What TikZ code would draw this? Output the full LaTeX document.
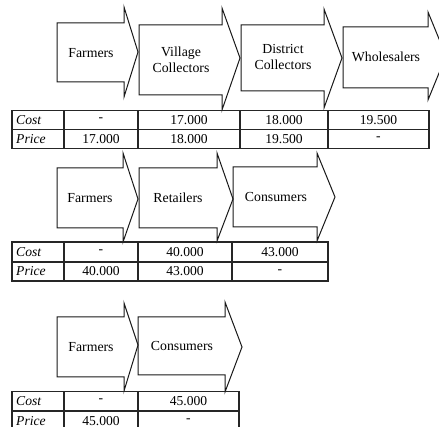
\documentclass[tikz,border=0pt]{standalone}
\usepackage{fontspec}
\setmainfont{Liberation Serif}
\tikzset{
  chain/.style={draw=black!90, line width=1pt, line join=miter},
  grid/.style={draw=black!85, line width=1.1pt},
  lbl/.style={font=\fontsize{13.8}{16.5}\selectfont, align=center, inner sep=0pt},
  cell/.style={font=\fontsize{13.6}{15}\selectfont, inner sep=0pt},
  head/.style={cell, font=\fontsize{13.6}{15}\selectfont\itshape, anchor=west},
}
\begin{document}
\begin{tikzpicture}[x=1pt,y=-1pt]
\useasboundingbox (0,0) rectangle (439,427);
\clip (0,0) rectangle (439,427);

% ---- chain 1: farmers -> village collectors -> district collectors -> wholesalers
\draw[chain] (57,23) -- (124,23) -- (124,7) -- (138,52) -- (124,97) -- (124,82) -- (57,82) -- cycle;
\node[lbl] (a1) at (91,53) {Farmers};
\draw[chain] (139,25) -- (222,25) -- (222,8) -- (240,58) -- (222,110) -- (222,95) -- (139,95) -- cycle;
\node[lbl] (a2) at (181,60) {Village\\Collectors};
\draw[chain] (241,25) -- (324,25) -- (324,9) -- (342,58) -- (324,108) -- (324,91) -- (241,91) -- cycle;
\node[lbl] (a3) at (283,57) {District\\Collectors};
\draw[chain] (343,27) -- (428,27) -- (428,12) -- (446,56) -- (428,100) -- (428,88) -- (343,88) -- cycle;
\node[lbl] (a4) at (386,57) {Wholesalers};

% table 1
\draw[grid] (12,110.5) rectangle (429,148.5);
\draw[grid] (12,129.5) -- (429,129.5);
\foreach \c in {64,138,240,328} \draw[grid] (\c,110.5) -- (\c,148.5);
\node[head] (t1c) at (16,120) {Cost};
\node[head] (t1p) at (16,139) {Price};
\node[cell] (t1c1) at (101,120) {-};
\node[cell] (t1c2) at (189,120) {17.000};
\node[cell] (t1c3) at (284,120) {18.000};
\node[cell] (t1c4) at (378.5,120) {19.500};
\node[cell] (t1p1) at (101,139) {17.000};
\node[cell] (t1p2) at (189,139) {18.000};
\node[cell] (t1p3) at (284,139) {19.500};
\node[cell] (t1p4) at (378.5,139) {-};

% ---- chain 2: farmers -> retailers -> consumers
\draw[chain] (57,168) -- (123,168) -- (123,153) -- (138,199) -- (123,242) -- (123,228) -- (57,228) -- cycle;
\node[lbl] (b1) at (90,198) {Farmers};
\draw[chain] (139,168) -- (217,168) -- (217,153) -- (233,199) -- (217,241) -- (217,228) -- (139,228) -- cycle;
\node[lbl] (b2) at (178,198) {Retailers};
\draw[chain] (233,167) -- (317,167) -- (317,153) -- (335,197) -- (317,241) -- (317,227) -- (233,227) -- cycle;
\node[lbl] (b3) at (276,197) {Consumers};

% table 2
\draw[grid] (12,242) rectangle (328,281);
\draw[grid] (12,262) -- (328,262);
\foreach \c in {64,138,232} \draw[grid] (\c,242) -- (\c,281);
\node[head] (t2c) at (16,252) {Cost};
\node[head] (t2p) at (16,271.5) {Price};
\node[cell] (t2c1) at (101,252) {-};
\node[cell] (t2c2) at (185,252) {40.000};
\node[cell] (t2c3) at (280,252) {43.000};
\node[cell] (t2p1) at (101,271.5) {40.000};
\node[cell] (t2p2) at (185,271.5) {43.000};
\node[cell] (t2p3) at (280,271.5) {-};

% ---- chain 3: farmers -> consumers
\draw[chain] (57,317) -- (124,317) -- (124,303) -- (138,345) -- (124,391) -- (124,377) -- (57,377) -- cycle;
\node[lbl] (c1) at (91,347) {Farmers};
\draw[chain] (138,317) -- (225,317) -- (225,302) -- (242,347) -- (225,392) -- (225,375) -- (138,375) -- cycle;
\node[lbl] (c2) at (182,346) {Consumers};

% table 3 (runs past the lower edge)
\draw[grid] (12,391.5) rectangle (239,431);
\draw[grid] (12,411) -- (239,411);
\foreach \c in {64,138} \draw[grid] (\c,391.5) -- (\c,431);
\node[head] (t3c) at (16,401) {Cost};
\node[head] (t3p) at (16,421) {Price};
\node[cell] (t3c1) at (101,401) {-};
\node[cell] (t3c2) at (188.5,401) {45.000};
\node[cell] (t3p1) at (101,421) {45.000};
\node[cell] (t3p2) at (188.5,421) {-};
\end{tikzpicture}
\end{document}
